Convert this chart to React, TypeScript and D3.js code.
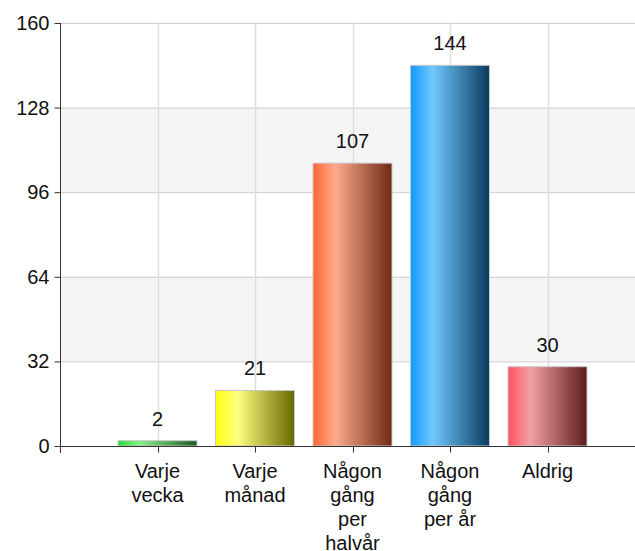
import React, { useEffect, useRef } from 'react';
import * as d3 from 'd3';

const categories = ['Varje vecka', 'Varje månad', 'Någon gång per halvår', 'Någon gång per år', 'Aldrig'];
const labelLines = [['Varje', 'vecka'], ['Varje', 'månad'], ['Någon', 'gång', 'per', 'halvår'], ['Någon', 'gång', 'per år'], ['Aldrig']];
const values = [2, 21, 107, 144, 30];
const yTicks = [0, 32, 64, 96, 128, 160];
// left colour, highlight, dark end
const barColors = [
  ['#22dd33', '#88f088', '#1a5a22'],
  ['#ffff11', '#ffff80', '#666600'],
  ['#ff6633', '#ffab8c', '#6e2a14'],
  ['#1199ff', '#70c8ff', '#0b3a5e'],
  ['#ff5060', '#f2a0a4', '#5e1c1c'],
];

function App() {
  const ref = useRef<SVGSVGElement>(null);

  useEffect(() => {
    const svg = d3.select(ref.current);
    svg.selectAll('*').remove();
    const width = 635;
    const height = 551;
    const margin = { top: 23, left: 60, bottom: 105 };
    const font = 'Arial, "Liberation Sans", sans-serif';
    const fs = 20;

    const x = d3.scaleLinear().domain([0, categories.length + 1]).range([margin.left, 645]);
    const step = x(1) - x(0);
    const barW = step * 0.81;
    const y = d3.scaleLinear().domain([0, 160]).range([height - margin.bottom, margin.top]);

    const defs = svg.append('defs');
    barColors.forEach((c, i) => {
      const g = defs.append('linearGradient').attr('id', 'grad' + i).attr('x1', '0%').attr('x2', '100%');
      g.append('stop').attr('offset', '0%').attr('stop-color', c[0]);
      g.append('stop').attr('offset', '28%').attr('stop-color', c[1]);
      g.append('stop').attr('offset', '100%').attr('stop-color', c[2]);
    });

    // alternating bands
    for (let i = 0; i < yTicks.length - 1; i++) {
      if (i % 2 === 1) {
        svg.append('rect')
          .attr('x', margin.left)
          .attr('y', y(yTicks[i + 1]))
          .attr('width', width - margin.left)
          .attr('height', y(yTicks[i]) - y(yTicks[i + 1]))
          .attr('fill', '#f5f5f5');
      }
    }

    // grid
    svg.append('g').selectAll('line').data(yTicks).join('line')
      .attr('x1', margin.left).attr('x2', width)
      .attr('y1', d => y(d) + 0.5).attr('y2', d => y(d) + 0.5)
      .attr('stroke', '#cccccc');
    svg.append('g').selectAll('line').data(categories).join('line')
      .attr('x1', (d, i) => Math.round(x(i + 1)) + 0.5).attr('x2', (d, i) => Math.round(x(i + 1)) + 0.5)
      .attr('y1', y(160)).attr('y2', y(0))
      .attr('stroke', '#dddddd').attr('stroke-width', 1.5);

    // bars
    svg.append('g').selectAll('rect').data(values).join('rect')
      .attr('x', (d, i) => x(i + 1) - barW / 2)
      .attr('y', d => y(d))
      .attr('width', barW)
      .attr('height', d => y(0) - y(d))
      .attr('fill', (d, i) => `url(#grad${i})`)
      .attr('stroke', '#c8c8c8')
      .attr('stroke-width', 1);

    // value labels
    svg.append('g').selectAll('text').data(values).join('text')
      .attr('x', (d, i) => x(i + 1))
      .attr('y', d => y(d) - 15)
      .attr('text-anchor', 'middle')
      .attr('font-family', font)
      .attr('font-size', fs)
      .attr('fill', '#111')
      .text(d => d);

    // y axis
    const yAxis = svg.append('g').attr('transform', `translate(${margin.left + 0.5},0)`);
    yAxis.append('line').attr('y1', y(160)).attr('y2', y(0) + 7).attr('stroke', '#333');
    yAxis.selectAll('.tick').data(yTicks).join('line')
      .attr('x1', -6).attr('x2', 0)
      .attr('y1', d => y(d) + 0.5).attr('y2', d => y(d) + 0.5)
      .attr('stroke', '#333');
    yAxis.selectAll('text').data(yTicks).join('text')
      .attr('x', -11)
      .attr('y', d => y(d) + 7)
      .attr('text-anchor', 'end')
      .attr('font-family', font)
      .attr('font-size', fs)
      .attr('fill', '#111')
      .text(d => d);

    // x axis
    const xAxis = svg.append('g').attr('transform', `translate(0,${y(0) + 0.5})`);
    xAxis.append('line').attr('x1', margin.left).attr('x2', width).attr('stroke', '#333');
    xAxis.selectAll('.tick').data(categories).join('line')
      .attr('x1', (d, i) => Math.round(x(i + 1)) + 0.5).attr('x2', (d, i) => Math.round(x(i + 1)) + 0.5)
      .attr('y1', 0).attr('y2', 6)
      .attr('stroke', '#333');
    xAxis.selectAll('text').data(labelLines).join('text')
      .attr('text-anchor', 'middle')
      .attr('font-family', font)
      .attr('font-size', fs)
      .attr('fill', '#111')
      .each(function (lines, i) {
        const t = d3.select(this);
        lines.forEach((l, j) => {
          t.append('tspan').attr('x', x(i + 1)).attr('y', 31 + j * 24).text(l);
        });
      });
  });

  return (
    <svg ref={ref} width={635} height={551} style={{ position: 'absolute', left: 0, top: 0, background: '#fff' }} />
  );
}

export default App;
